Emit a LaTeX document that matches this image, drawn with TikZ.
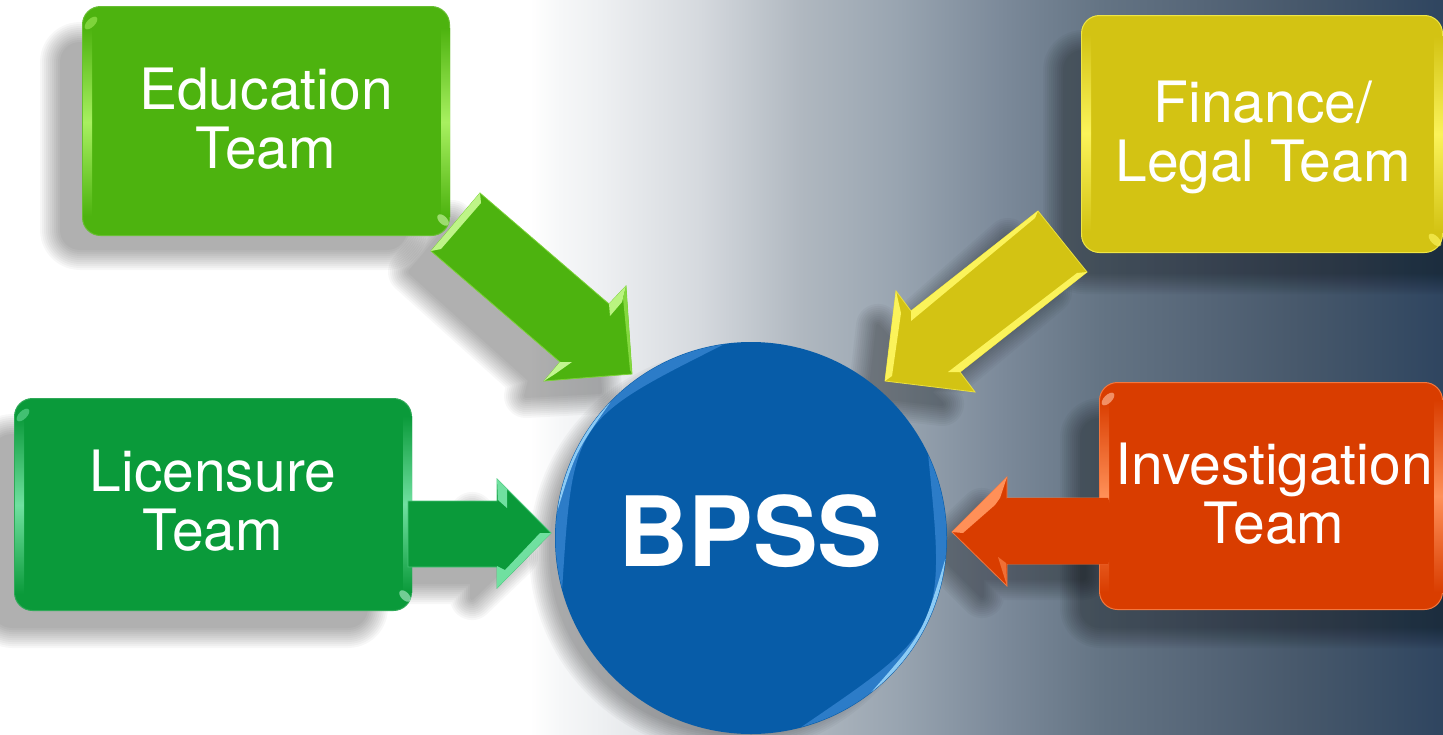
\documentclass[tikz,border=0pt]{standalone}
\usepackage{fontspec}
\setmainfont{TeX Gyre Heros}
\usetikzlibrary{calc}
\definecolor{cEdu}{HTML}{4DB30F}\definecolor{lEdu}{HTML}{A8F060}
\definecolor{cLic}{HTML}{0A9A3A}\definecolor{lLic}{HTML}{70E0A0}
\definecolor{cFin}{HTML}{D3C313}\definecolor{lFin}{HTML}{FBF35A}
\definecolor{cInv}{HTML}{D93D00}\definecolor{lInv}{HTML}{FF9058}
\definecolor{cBp}{HTML}{075CA8}\definecolor{lBp}{HTML}{8CCBF5}\definecolor{mBp}{HTML}{2C7CC8}
\definecolor{s0}{HTML}{F6F7F8}\definecolor{s1}{HTML}{EEF0F2}\definecolor{s2}{HTML}{D5D9DE}
\definecolor{s3}{HTML}{B0B8C0}\definecolor{s4}{HTML}{98A4B0}\definecolor{s5}{HTML}{7C8A9A}
\definecolor{s6}{HTML}{647484}\definecolor{s7}{HTML}{566678}\definecolor{s8}{HTML}{47586B}
\definecolor{s9}{HTML}{364B63}\definecolor{s10}{HTML}{2F4560}
\tikzset{
 teambox/.style={rounded corners=18,inner sep=0pt,outer sep=0pt,line width=1pt},
 teamtext/.style={text=white,font=\fontsize{57}{59}\selectfont,align=center,inner sep=0pt},
}
\newcommand\softshadow[1]{\foreach \w in {44,40,...,4}{\begin{scope}[transparency group,opacity=.032]\filldraw[draw=black,fill=black,line join=round,line width=\w pt] #1;\end{scope}}}
% vertical bevel strip: x1 x2 y1 y2 base light
\newcommand\vbevel[6]{\shade[left color=#5,right color=#5,middle color=#6,shading angle=0] (#1,#3) rectangle (#2,#4);}
% crescent on the circle: start angle, end angle, depth, colour
\newcommand\crescent[4]{\pgfmathsetmacro\mida{(#1+#2)/2}\pgfmathsetmacro\midr{(4*(195.5-#3)-195.5*cos((#2-#1)/2))/3}
 \fill[#4] (bpss.center)++(#1:195.5) arc[start angle=#1,end angle=#2,radius=195.5] .. controls ($(bpss.center)+(\mida:\midr)$) .. ($(bpss.center)+(#1:195.5)$) -- cycle;}
\newcommand\bgband[4]{\shade[left color=#3,right color=#4] (#1,0) rectangle (#2,734);}
\begin{document}
\begin{tikzpicture}[x=1pt,y=-1pt]
\useasboundingbox (0,0) rectangle (1443,734);
\fill[white] (0,0) rectangle (531,734);
\bgband{530}{560.5}{white}{s0}
\bgband{560}{600.5}{s0}{s1}
\bgband{600}{700.5}{s1}{s2}
\bgband{700}{800.5}{s2}{s3}
\bgband{800}{900.5}{s3}{s4}
\bgband{900}{1000.5}{s4}{s5}
\bgband{1000}{1100.5}{s5}{s6}
\bgband{1100}{1200.5}{s6}{s7}
\bgband{1200}{1300.5}{s7}{s8}
\bgband{1300}{1400.5}{s8}{s9}
\bgband{1400}{1443}{s9}{s10}
% shadows
\softshadow{[rounded corners=18] (62,44) rectangle (405,248)}
\softshadow{[rounded corners=18] (-6,436) rectangle (366,626)}
\softshadow{[rounded corners=18] (1065,52) rectangle (1470,272)}
\softshadow{[rounded corners=18] (1082,420) rectangle (1470,626)}
\softshadow{(731,552) circle[radius=180]}
\softshadow{(452,222) -- (410,272) -- (530,380) -- (526,396) -- (600,392) -- (596,320) -- (580,334) -- cycle}
\softshadow{(1008,240) -- (1050,292) -- (930,392) -- (942,404) -- (870,396) -- (878,326) -- (892,342) -- cycle}
\softshadow{(384,530) -- (472,530) -- (472,514) -- (516,556) -- (472,598) -- (472,582) -- (384,582) -- cycle}
\softshadow{(1084,526) -- (982,526) -- (982,510) -- (938,552) -- (982,596) -- (982,578) -- (1084,578) -- cycle}
% boxes
\node[teambox,fill=cEdu,draw=cEdu!85!white,minimum width=367pt,minimum height=229pt] (edu) at (266,121) {};
\node[teambox,fill=cLic,draw=cLic!85!white,minimum width=397pt,minimum height=212pt] (lic) at (213,504.5) {};
\node[teambox,fill=cFin,draw=lFin!70!cFin,minimum width=361pt,minimum height=237pt] (fin) at (1262,134) {};
\node[teambox,fill=cInv,draw=lInv!70!cInv,minimum width=343pt,minimum height=227pt] (inv) at (1271,496) {};
% box bevels
\vbevel{83}{92}{28}{216}{cEdu}{lEdu}
\vbevel{441}{450}{28}{216}{cEdu}{lEdu}
\fill[lEdu,opacity=.55,rotate around={45:(91,23)}] (91,23) ellipse[x radius=8,y radius=4];
\fill[lEdu!50!white,opacity=.6,rotate around={-45:(443,220)}] (443,220) ellipse[x radius=7,y radius=4];
\vbevel{15}{24}{416}{594}{cLic}{lLic}
\vbevel{403}{412}{416}{592}{cLic}{lLic}
\fill[lLic,opacity=.55,rotate around={45:(23,415)}] (23,415) ellipse[x radius=8,y radius=4];
\fill[lLic!50!white,opacity=.6,rotate around={-45:(405,596)}] (405,596) ellipse[x radius=7,y radius=4];
\vbevel{1082}{1091}{34}{232}{cFin}{lFin}
\vbevel{1434}{1443}{36}{232}{cFin}{lFin}
\fill[lFin,opacity=.7,rotate around={-45:(1435,240)}] (1435,240) ellipse[x radius=8,y radius=4];
\vbevel{1100}{1109}{400}{592}{cInv}{lInv}
\vbevel{1434}{1443}{400}{592}{cInv}{lInv}
\fill[lInv!60!white,opacity=.65,rotate around={45:(1108,399)}] (1108,399) ellipse[x radius=8,y radius=4];
% arrow vertices
\coordinate (a1) at (480,193);\coordinate (a2) at (431,251);\coordinate (a3) at (560,362);
\coordinate (a4) at (544,381);\coordinate (a5) at (632,374);\coordinate (a6) at (626,286);\coordinate (a7) at (609,304);
\coordinate (b1) at (1038,211);\coordinate (b2) at (1087,272);\coordinate (b3) at (960,372);
\coordinate (b4) at (975,392);\coordinate (b5) at (885,381);\coordinate (b6) at (896,291);\coordinate (b7) at (911,311);
\coordinate (c1) at (408,501);\coordinate (c2) at (497,501);\coordinate (c3) at (497,479);
\coordinate (c4) at (551,533);\coordinate (c5) at (497,588);\coordinate (c6) at (497,567);\coordinate (c7) at (408,567);
\coordinate (d1) at (1108,498);\coordinate (d2) at (1007,498);\coordinate (d3) at (1007,477);
\coordinate (d4) at (952,532);\coordinate (d5) at (1007,586);\coordinate (d6) at (1007,564);\coordinate (d7) at (1108,564);
% arrows
\draw[fill=cEdu,draw=lEdu!50!cEdu,line width=.8pt] (a1)--(a2)--(a3)--(a4)--(a5)--(a6)--(a7)--cycle;
\fill[lEdu!75!white] (a1)--(a2)--(441,249)--(481,203)--cycle;
\fill[lEdu!80!white] (a6)--(a7)--(610,316)--(622,302)--cycle;
\fill[cEdu!40!lEdu] (a5)--(630,370)--(623,298)--(a6)--cycle;
\fill[lEdu!70!white] (a4)--(560,362)--(572,362)--(555,374)--cycle;
\draw[fill=cFin,draw=lFin!60!cFin,line width=.8pt] (b1)--(b2)--(b3)--(b4)--(b5)--(b6)--(b7)--cycle;
\fill[lFin] (b1)--(1035,218)--(911,321)--(b7)--cycle;
\fill[lFin] (b2)--(1077,273)--(948,372)--(b3)--cycle;
\fill[lFin] (b5)--(b6)--(901,313)--(892,376)--cycle;
\draw[fill=cLic,draw=lLic!60!cLic,line width=.8pt] (c1)--(c2)--(c3)--(c4)--(c5)--(c6)--(c7)--cycle;
\fill[lLic] (c3)--(507,489)--(507,508)--(498,500)--cycle;
\fill[lLic] (c4)--(c5)--(497,566)--(505,570)--(540,533)--cycle;
\draw[fill=cInv,draw=lInv!70!cInv,line width=.8pt] (d1)--(d2)--(d3)--(d4)--(d5)--(d6)--(d7);
\fill[cInv] (d1)--(d2)--(d6)--(d7)--(1110,558)--(1110,504)--cycle;
\fill[lInv] (d4)--(d3)--(1000,498)--(995,505)--(963,533)--cycle;
\fill[lInv!60!cInv] (d5)--(998,557)--(1006,563)--cycle;
% circle
\node[circle,fill=cBp,inner sep=0pt,minimum size=392pt] (bpss) at (751,538) {};
\crescent{165}{262}{3}{mBp}
\crescent{-25}{75}{3}{mBp}
\crescent{188}{224}{2.5}{lBp}
\crescent{6}{52}{3}{lBp}
% texts
\node[teamtext] (eduT) at (266,119) {Education\\Team};
\node[teamtext] (licT) at (213,501) {Licensure\\Team};
\node[teamtext] (finT) at (1263,137) {Finance/\\Legal Team};
\node[teamtext] (invT) at (1274,494) {Investigation\\Team};
\node[text=white,font=\bfseries\fontsize{97}{97}\selectfont,inner sep=0pt] (bpssT) at (750.5,531) {BPSS};
\end{tikzpicture}
\end{document}
